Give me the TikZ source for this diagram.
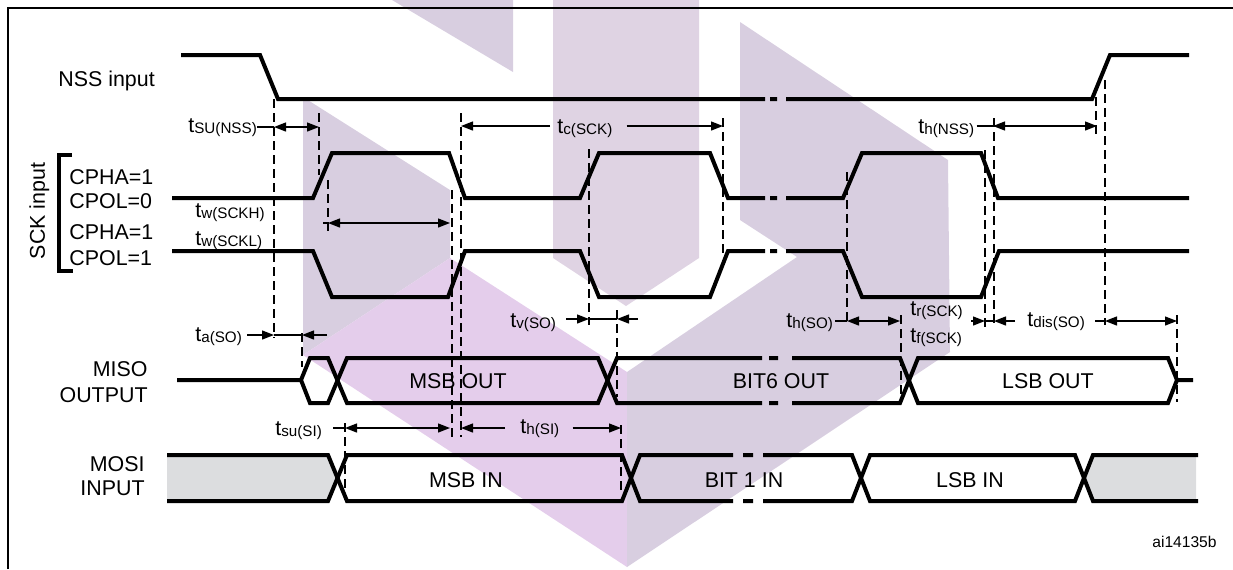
\documentclass[tikz,border=0pt]{standalone}
\usepackage{fontspec}
\setmainfont{Liberation Sans}
\usepackage{tikz}
\usetikzlibrary{arrows.meta,calc}

\definecolor{wmgrey}{RGB}{216,206,224}
\definecolor{wmband}{RGB}{223,211,227}
\definecolor{wmpink}{RGB}{228,205,235}
\definecolor{busgrey}{RGB}{220,221,223}

\newcommand{\tsb}[1]{\raisebox{-0.5pt}{\fontsize{7.6}{8}\selectfont #1}}

\begin{document}
\begin{tikzpicture}[x=0.5pt, y=-0.5pt,
        sig/.style={line width=2pt, line join=miter},
        dimline/.style={line width=0.65pt},
        dimarr/.style={dimline, -{Triangle[length=6pt,width=4.5pt]}},
        dimboth/.style={dimline, {Triangle[length=6pt,width=4.5pt]}-{Triangle[length=6pt,width=4.5pt]}},
        guide/.style={line width=0.7pt, dash pattern=on 4.5pt off 2.5pt},
        lab/.style={font=\fontsize{10.7}{12.8}\selectfont, inner sep=0pt},
        tlab/.style={lab, anchor=base west},
        codelab/.style={font=\fontsize{7.8}{9}\selectfont, inner sep=0pt}]
    \useasboundingbox (0,0) rectangle (1233,569);

    % Draw watermark
    \fill[wmgrey] (392,0) -- (513,0) -- (513,72) -- cycle;
    \fill[wmband] (553,0) -- (699,0) -- (699,258) -- (626,306) -- (553,258) -- cycle;
    \fill[wmgrey] (303,97) -- (450,190) -- (450,258) -- (303,355) -- cycle;
    \fill[wmpink] (303,355) -- (450,258) -- (627,372) -- (627,567) -- cycle;
    \fill[wmgrey] (627,372) -- (797,257) -- (740,220) -- (740,22) -- (948,160) -- (950,352) -- (627,567) -- cycle;

    % Draw frame
    \draw[line width=1.2pt] (8,569) -- (8,8) -- (1233,8);

    % Signal names
    \node[tlab] (nss) at (58,86) {NSS input};
    \node[lab, anchor=base, rotate=90] (sck) at (45,211) {SCK input};
    \draw[sig] (72,155) -- (59,155) -- (59,271) -- (73,271);
    \node[tlab] (cphazero) at (69,184) {CPHA=1};
    \node[tlab] (cpolzero) at (69,208) {CPOL=0};
    \node[tlab] (cphaone) at (69,239) {CPHA=1};
    \node[tlab] (cpolone) at (69,265) {CPOL=1};
    \node[lab, anchor=base east] (miso) at (148,376) {MISO};
    \node[lab, anchor=base east] (misoout) at (148,402) {OUTPUT};
    \node[lab, anchor=base east] (mosi) at (145,471) {MOSI};
    \node[lab, anchor=base east] (mosiin) at (145,495) {INPUT};

    % Draw NSS and SCK
    \draw[sig] (181,55) -- (260,55) -- (278,99) -- (765,99) (770,99) -- (777,99) (786,99) -- (1092,99) -- (1110,55) -- (1189,55);
    \draw[sig] (172,198) -- (313,198) -- (332,153) -- (449,153) -- (465,198) -- (580,198) -- (599,153) -- (710,153) -- (728,198) -- (765,198) (770,198) -- (777,198) (786,198) -- (843,198) -- (862,153) -- (981,153) -- (998,198) -- (1189,198);
    \draw[sig] (172,251) -- (313,251) -- (332,297) -- (448,297) -- (465,251) -- (580,251) -- (599,297) -- (710,297) -- (728,251) -- (765,251) (770,251) -- (777,251) (786,251) -- (843,251) -- (862,297) -- (981,297) -- (999,251) -- (1189,251);

    % Draw MISO
    \draw[sig] (177,380) -- (301,380) -- (310,358) -- (328,358) -- (347,403) -- (598,403) -- (617,358) -- (762,358) (769,358) -- (778,358) (792,358) -- (900,358) -- (918,403) -- (1168,403) -- (1177,380) -- (1193,380);
    \draw[sig] (301,380) -- (310,403) -- (328,403) -- (347,358) -- (598,358) -- (617,403) -- (762,403) (769,403) -- (778,403) (792,403) -- (900,403) -- (918,358) -- (1168,358) -- (1177,380);
    \node[lab, anchor=base] (msbout) at (458,388) {MSB OUT};
    \node[lab, anchor=base] (bitsixout) at (781,388) {BIT6 OUT};
    \node[lab, anchor=base] (lsbout) at (1048,388) {LSB OUT};

    % Draw MOSI
    \fill[busgrey] (167,455) -- (328,455) -- (337,478) -- (328,501) -- (167,501) -- cycle;
    \fill[busgrey] (1196,455) -- (1093,455) -- (1084,478) -- (1093,501) -- (1196,501) -- cycle;
    \draw[sig] (167,455) -- (328,455) -- (347,501) -- (622,501) -- (640,455) -- (733,455) (743,455) -- (753,455) (763,455) -- (852,455) -- (870,501) -- (1075,501) -- (1093,455) -- (1198,455);
    \draw[sig] (167,501) -- (328,501) -- (347,455) -- (622,455) -- (640,501) -- (733,501) (743,501) -- (753,501) (763,501) -- (852,501) -- (870,455) -- (1075,455) -- (1093,501) -- (1198,501);
    \node[lab, anchor=base] (msbin) at (466,487) {MSB IN};
    \node[lab, anchor=base] (bitonein) at (744,487) {BIT 1 IN};
    \node[lab, anchor=base] (lsbin) at (970,487) {LSB IN};

    % Dashed guides
    \foreach \gx/\gy/\gz in {274/99/338, 319/113/175, 328/180/232, 302/333/367,
            452/190/437, 461/113/437, 589/149/325, 617/310/397, 723/118/253,
            847/172/325, 901/315/395, 985/150/327, 994/118/327, 1096/97/135,
            1105/80/325, 1177/315/402, 345/423/500, 621/425/495}
        \draw[guide] (\gx,\gy) -- (\gx,\gz);

    % Timing labels
    \node[tlab] (tsunss) at (188,132) {t\tsb{SU(NSS)}};
    \node[tlab] (tcsck) at (557,133) {t\tsb{c(SCK)}};
    \node[tlab] (thnss) at (918,133) {t\tsb{h(NSS)}};
    \node[tlab] (twsckh) at (195,217) {t\tsb{w(SCKH)}};
    \node[tlab] (twsckl) at (195,245) {t\tsb{w(SCKL)}};
    \node[tlab] (taso) at (195,341) {t\tsb{a(SO)}};
    \node[tlab] (tvso) at (510,327) {t\tsb{v(SO)}};
    \node[tlab] (thso) at (786,327) {t\tsb{h(SO)}};
    \node[tlab] (trsck) at (910,315) {t\tsb{r(SCK)}};
    \node[tlab] (tfsck) at (910,342) {t\tsb{f(SCK)}};
    \node[tlab] (tdisso) at (1027,326) {t\tsb{dis(SO)}};
    \node[tlab] (tsusi) at (275,435) {t\tsb{su(SI)}};
    \node[tlab] (thsi) at (520,433) {t\tsb{h(SI)}};
    \node[codelab, anchor=base east] (figcode) at (1217,547) {ai14135b};

    % Draw timing arrows
    \coordinate (sua) at (274,127);
    \coordinate (sub) at (319,127);
    \draw[dimline] (tsunss.east |- sua) -- (sua);
    \draw[dimboth] (sua) -- (sub);

    \coordinate (tca) at (461,126);
    \coordinate (tcb) at (723,126);
    \draw[dimarr] ($(tcsck.west |- tca)+(-7,0)$) -- (tca);
    \draw[dimarr] ($(tcsck.east |- tcb)+(14,0)$) -- (tcb);

    \coordinate (hna) at (993,126);
    \coordinate (hnb) at (1097,126);
    \draw[dimline] ($(thnss.east |- hna)+(2,0)$) -- (hna);
    \draw[dimboth] (hna) -- (hnb);

    \coordinate (wha) at (328,223);
    \coordinate (whb) at (450,223);
    \draw[dimline] (wha) -- +(-5,0);
    \draw[dimboth] (wha) -- (whb);

    \coordinate (taa) at (274,335);
    \coordinate (tab) at (302,335);
    \draw[dimarr] ($(taso.east |- taa)+(5,0)$) -- (taa);
    \draw[dimline] (taa) -- (tab);
    \draw[dimarr] ($(tab)+(25,0)$) -- (tab);

    \coordinate (tva) at (589,319);
    \coordinate (tvb) at (617,319);
    \draw[dimarr] ($(tvso.east |- tva)+(10,0)$) -- (tva);
    \draw[dimline] (tva) -- (tvb);
    \draw[dimarr] ($(tvb)+(21,0)$) -- (tvb);

    \coordinate (hsa) at (847,321);
    \coordinate (hsb) at (900,321);
    \draw[dimline] ($(thso.east |- hsa)+(2,0)$) -- (hsa);
    \draw[dimboth] (hsa) -- (hsb);

    \coordinate (rsa) at (985,321);
    \coordinate (rsb) at (994,321);
    \draw[dimarr] ($(trsck.east |- rsa)+(8,0)$) -- (rsa);
    \draw[dimline] (rsa) -- (rsb);
    \draw[dimarr] ($(rsb)+(21,0)$) -- (rsb);

    \coordinate (dsa) at (1105,321);
    \coordinate (dsb) at (1177,321);
    \draw[dimline] ($(tdisso.east |- dsa)+(10,0)$) -- (dsa);
    \draw[dimboth] (dsa) -- (dsb);

    \coordinate (sia) at (345,428);
    \coordinate (sib) at (450,428);
    \draw[dimline] ($(tsusi.east |- sia)+(11,0)$) -- (sia);
    \draw[dimboth] (sia) -- (sib);

    \coordinate (hia) at (461,428);
    \coordinate (hib) at (621,428);
    \draw[dimarr] ($(thsi.west |- hia)+(-15,0)$) -- (hia);
    \draw[dimarr] ($(thsi.east |- hib)+(13,0)$) -- (hib);
\end{tikzpicture}
\end{document}
